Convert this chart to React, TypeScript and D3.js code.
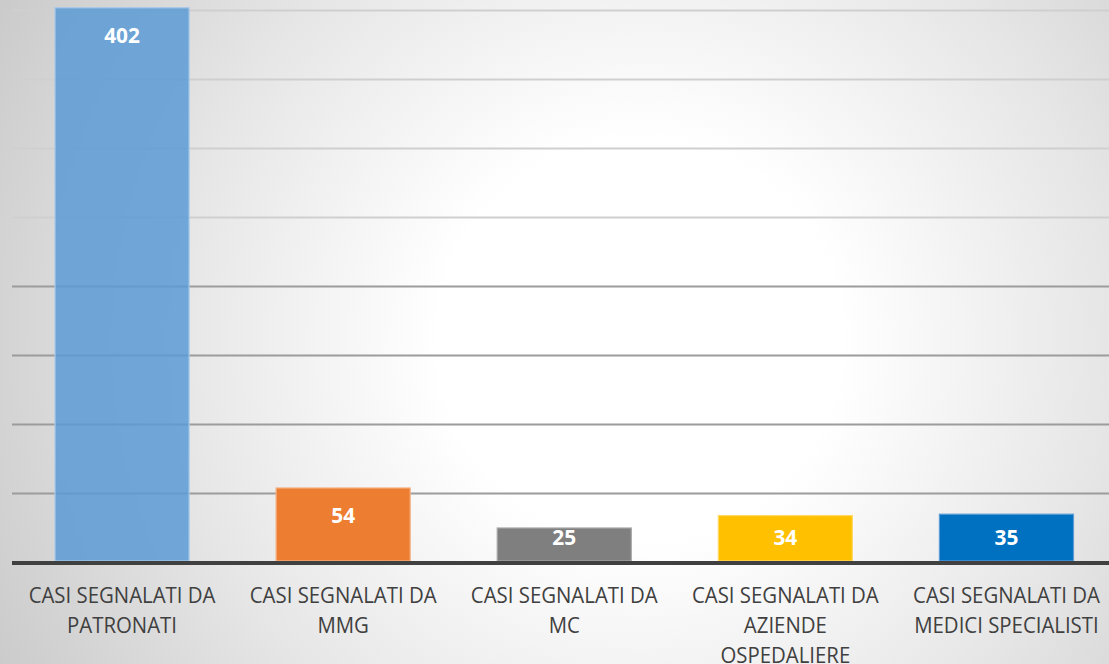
import React from "react";
import * as d3 from "d3";

const categories = [
  "CASI SEGNALATI DA|PATRONATI",
  "CASI SEGNALATI DA|MMG",
  "CASI SEGNALATI DA|MC",
  "CASI SEGNALATI DA|AZIENDE|OSPEDALIERE",
  "CASI SEGNALATI DA|MEDICI SPECIALISTI",
];
const values = [402, 54, 25, 34, 35];
const barColors = ["#5B9BD5", "#ED7D31", "#7F7F7F", "#FFC000", "#0070C0"];
const barStrokes = ["#a9c9e8", "#f4b183", "#a6a6a6", "#ffd966", "#5b9bd5"];
const barOpacity = [0.85, 1, 1, 1, 1];
const gridTicks = [0, 50, 100, 150, 200, 250, 300, 350, 400];

const W = 1109;
const H = 664;

export default function App() {
  const x = d3
    .scaleBand<number>()
    .domain(d3.range(categories.length))
    .range([11.5, 1117])
    .paddingInner(87 / 221)
    .paddingOuter(43.5 / 221);
  const y = d3.scaleLinear().domain([0, 400]).range([562.5, 10.5]);
  const base = 561;

  return (
    <svg
      width={W}
      height={H}
      style={{ position: "absolute", left: 0, top: 0, display: "block" }}
    >
      <defs>
        <radialGradient
          id="bg"
          gradientUnits="userSpaceOnUse"
          cx={640}
          cy={340}
          r={720}
        >
          <stop offset="0" stopColor="#ffffff" />
          <stop offset="0.28" stopColor="#ffffff" />
          <stop offset="0.65" stopColor="#e6e6e6" />
          <stop offset="1" stopColor="#cbcbcb" />
        </radialGradient>
      </defs>
      <rect x={0} y={0} width={W} height={H} fill="url(#bg)" />
      {gridTicks
        .filter((t) => t > 0)
        .map((t) => (
          <line
            key={t}
            x1={12}
            x2={W}
            y1={y(t)}
            y2={y(t)}
            stroke={t >= 250 ? "#cfcfcf" : "#9c9c9c"}
            strokeWidth={2}
          />
        ))}
      {values.map((v, i) => {
        const bx = x(i)!;
        const bw = x.bandwidth();
        const top = y(v);
        return (
          <g key={i}>
            <rect
              x={bx}
              y={top}
              width={bw}
              height={base - top}
              fill={barColors[i]}
              fillOpacity={barOpacity[i]}
              stroke={barStrokes[i]}
              strokeWidth={1.2}
            />
            <text
              transform={`translate(${bx + bw / 2},${Math.min(top + 35, 545)}) scale(0.97,1)`}
              textAnchor="middle"
              fontFamily="'Open Sans', sans-serif"
              fontWeight={700}
              fontSize={21.5}
              fill="#ffffff"
            >
              {v}
            </text>
          </g>
        );
      })}
      <line x1={12} x2={W} y1={563} y2={563} stroke="#404040" strokeWidth={4} />
      {categories.map((c, i) => {
        const cx = x(i)! + x.bandwidth() / 2;
        return c.split("|").map((ln, j) => (
          <text
            key={`${i}-${j}`}
            transform={`translate(${cx},${602.7 + j * 30}) scale(0.91,1)`}
            textAnchor="middle"
            fontFamily="'Open Sans', sans-serif"
            fontSize={22.4}
            fill="#404040"
          >
            {ln}
          </text>
        ));
      })}
    </svg>
  );
}
